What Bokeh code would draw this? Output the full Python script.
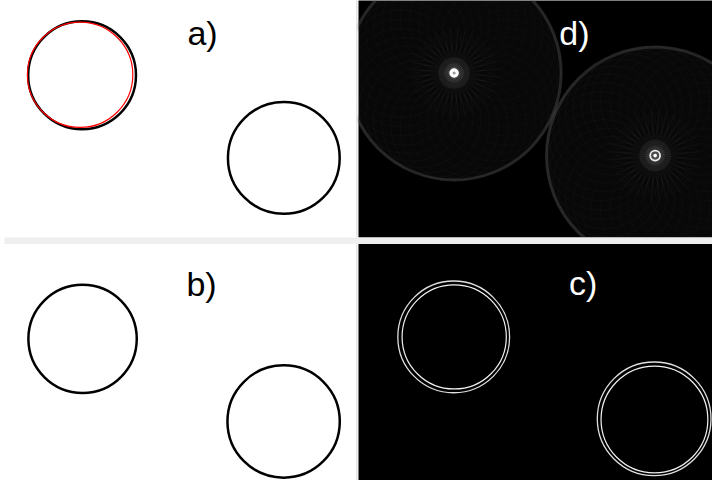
import numpy as np
from bokeh.plotting import figure
from bokeh.models import Range1d
from bokeh.core.properties import value
from bokeh.embed import file_html
from bokeh.resources import INLINE

# ---- data (reference pixel coordinates) ----
# panel a: detected (black) circles and fitted (red) circle
a_x = [90.5, 294.5]
a_y = [84.0, 168.0]
a_r = [54.5, 56.5]
a_fit_x = [88.5]
a_fit_y = [83.5]
a_fit_r = [53.3]

# panel b: circles
b_x = [91.0, 294.3]
b_y = [352.0, 436.0]
b_r = [54.8, 56.8]

# panel c: edge rings (outer / inner)
c_outer_x = [466.3, 669.0]
c_outer_y = [350.0, 433.3]
c_outer_r = [56.5, 57.5]
c_inner_x = [466.8, 669.3]
c_inner_y = [350.0, 434.0]
c_inner_r = [52.7, 54.0]

# panel d: accumulator peaks (centre) and voting radius
d_x = [466.7, 670.0]
d_y = [81.7, 165.7]
d_r = [54.5, 55.3]
vote_angles_deg = [0, 10, 20, 30, 40, 50, 60, 70, 80, 90, 100, 110,
                   120, 130, 140, 150, 160, 170, 180, 190, 200, 210, 220, 230,
                   240, 250, 260, 270, 280, 290, 300, 310, 320, 330, 340, 350]

labels = ["a)", "b)", "d)", "c)"]
label_x = [197, 196, 573, 583]
label_y = [41, 296, 41, 295]
label_col = ["black", "black", "white", "white"]

p = figure(width=712, height=480, x_range=Range1d(8, 728), y_range=Range1d(496, 8),
           output_backend="svg", toolbar_location=None, min_border=0)
p.axis.visible = False
p.grid.visible = False
p.outline_line_color = None
p.background_fill_color = "white"
p.border_fill_color = "white"

# panel d background
p.quad(left=[370], right=[728], top=[7], bottom=[249], fill_color="black", line_color=None)

# panel d accumulator: voting circles around each centre
ang = np.deg2rad(np.array(vote_angles_deg, dtype=float))
for cx, cy, r in zip(d_x, d_y, d_r):
    p.circle(x=[cx], y=[cy], radius=[2 * r], fill_color="white", fill_alpha=0.03,
             line_color=None)
    vx = cx + r * np.cos(ang)
    vy = cy + r * np.sin(ang)
    p.circle(x=vx, y=vy, radius=r, fill_color=None,
             line_color="white", line_alpha=0.022, line_width=1)
    p.circle(x=[cx, cx], y=[cy, cy], radius=[2 * r - 1.5, 2 * r], fill_color=None,
             line_color="#5a5a5a", line_alpha=0.38, line_width=1.5)
    p.ray(x=[cx] * len(ang), y=[cy] * len(ang), length=r * 0.8, angle=ang + 0.087,
          line_color="white", line_alpha=0.035, line_width=1.5)
    p.circle(x=[cx, cx, cx], y=[cy, cy, cy], radius=[16, 10, 6.5],
             fill_color="white", fill_alpha=0.06, line_color=None)

# bright peaks
p.circle(x=[d_x[0]], y=[d_y[0]], radius=[4.8], fill_color="white", line_color=None)
p.circle(x=[d_x[0]], y=[d_y[0]], radius=[1.6], fill_color="#9a9a9a", line_color=None)
p.circle(x=[d_x[1]], y=[d_y[1]], radius=[5.0], fill_color=None, line_color="#e6e6e6", line_width=1.8)
p.circle(x=[d_x[1]], y=[d_y[1]], radius=[1.8], fill_color="white", line_color=None)

# masks (keep panel d clipped)
p.quad(left=[0, 370], right=[369, 728], top=[0, 0], bottom=[249, 7], fill_color="white", line_color=None)
p.quad(left=[12], right=[728], top=[249], bottom=[255.5], fill_color="#efefef", line_color=None)
p.quad(left=[370], right=[728], top=[255.5], bottom=[496], fill_color="black", line_color=None)
p.segment(x0=[368.3, 368.3], y0=[7, 256], x1=[368.3, 368.3], y1=[249, 496],
          line_color="#dedede", line_width=1.2)

# panel a
p.circle(x=a_x, y=a_y, radius=a_r, fill_color=None, line_color="black", line_width=2.5)
p.circle(x=a_fit_x, y=a_fit_y, radius=a_fit_r, fill_color=None, line_color="red", line_width=1.2)

# panel b
p.circle(x=b_x, y=b_y, radius=b_r, fill_color=None, line_color="black", line_width=2.5)

# panel c
p.circle(x=c_outer_x, y=c_outer_y, radius=c_outer_r, fill_color=None, line_color="#e0e0e0", line_width=1.3)
p.circle(x=c_inner_x, y=c_inner_y, radius=c_inner_r, fill_color=None, line_color="#f2f2f2", line_width=1.2)

# labels
p.text(x=label_x, y=label_y, text=labels, text_color=label_col,
       text_font=value("Liberation Sans"), text_font_size="34px",
       text_baseline="alphabetic", text_align="left")

open("out.html", "w").write(file_html(p, INLINE))
